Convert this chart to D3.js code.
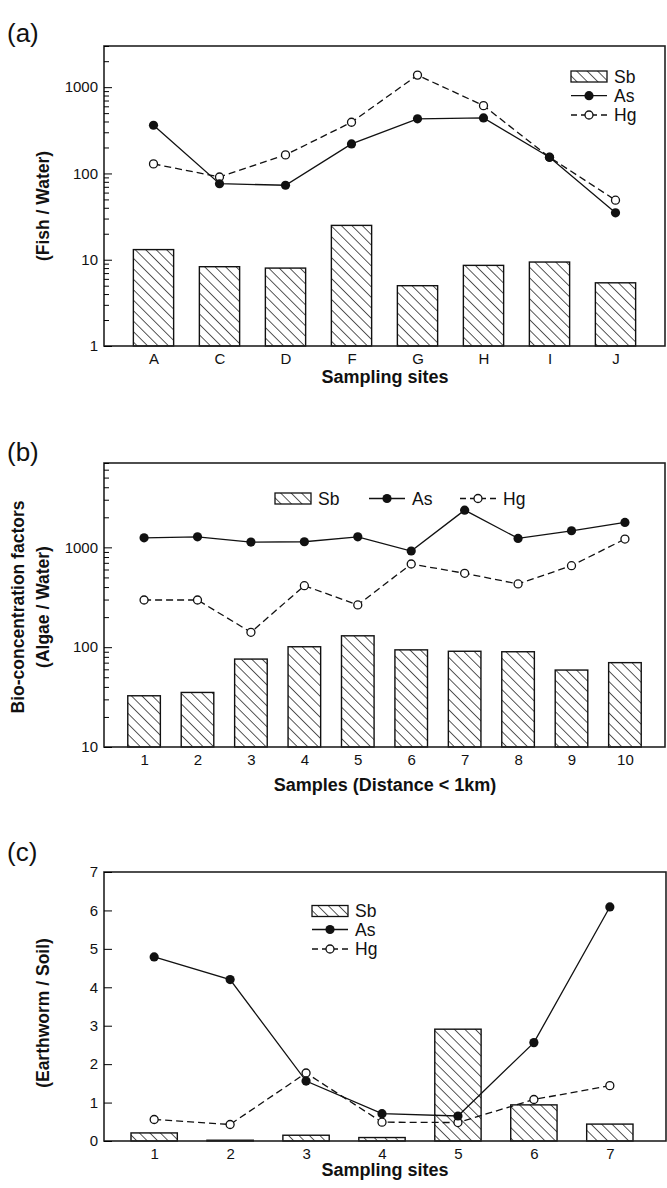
<!DOCTYPE html>
<html>
<head>
<meta charset="utf-8">
<script src="https://cdnjs.cloudflare.com/ajax/libs/d3/7.8.5/d3.min.js"></script>
<style>
  body { margin: 0; background: #fff; }
  text { font-family: "Liberation Sans", Arial, Helvetica, sans-serif; fill: #111; }
</style>
</head>
<body>
<svg id="chart" width="667" height="1188"></svg>
<script>
// data
var seriesNames = ["Sb", "As", "Hg"];

// (a) fish / water
var fishSites = ["A", "C", "D", "F", "G", "H", "I", "J"];
var fishSb = [13.1, 8.3, 8.0, 25, 5.0, 8.6, 9.4, 5.4];
var fishAs = [362, 76, 73, 220, 430, 440, 154, 35];
var fishHg = [129, 91, 164, 392, 1380, 611, 154, 49];

// (b) algae / water
var algaeSamples = ["1", "2", "3", "4", "5", "6", "7", "8", "9", "10"];
var algaeSb = [32.6, 35.2, 76, 101, 130, 94, 91, 90, 59, 70];
var algaeAs = [1247, 1276, 1130, 1138, 1276, 919, 2360, 1230, 1466, 1778];
var algaeHg = [297, 297, 141, 413, 265, 681, 550, 430, 655, 1211];

// (c) earthworm / soil
var wormSites = ["1", "2", "3", "4", "5", "6", "7"];
var wormSb = [0.21, 0.02, 0.15, 0.09, 2.91, 0.94, 0.44];
var wormAs = [4.79, 4.2, 1.56, 0.71, 0.65, 2.56, 6.09];
var wormHg = [0.56, 0.43, 1.77, 0.49, 0.48, 1.08, 1.44];

var svg = d3.select("#chart");

// hatch for the Sb bars
var defs = svg.append("defs");
defs.append("pattern")
    .attr("id", "hatch")
    .attr("patternUnits", "userSpaceOnUse")
    .attr("width", 7.4)
    .attr("height", 10)
    .attr("patternTransform", "rotate(-45)")
    .append("line")
    .attr("x1", 0).attr("y1", 0)
    .attr("x2", 0).attr("y2", 10)
    .attr("stroke", "#111")
    .attr("stroke-width", 1.4);

var HG_DASH = "7,4";

function drawPanel(p) {
    var g = svg.append("g");
    var left = p.left, right = p.right, top = p.top, bottom = p.bottom;

    var x = d3.scalePoint()
        .domain(p.cats)
        .range([left + p.xShift, right + p.xShift])
        .padding(p.pad);
    var bw = x.step() * 0.61;

    var y;
    if (p.log) {
        y = d3.scaleLog().domain(p.domain).range([bottom, top]);
    } else {
        y = d3.scaleLinear().domain(p.domain).range([bottom, top]);
    }

    // bars
    g.selectAll(".bar")
        .data(p.sb)
        .enter().append("rect")
        .attr("class", "bar")
        .attr("x", function (d, i) { return x(p.cats[i]) - bw / 2; })
        .attr("y", function (d) { return y(d); })
        .attr("width", bw)
        .attr("height", function (d) { return bottom - y(d); })
        .attr("fill", "url(#hatch)")
        .attr("stroke", "#111")
        .attr("stroke-width", 1.4);

    // lines
    var line = d3.line()
        .x(function (d, i) { return x(p.cats[i]); })
        .y(function (d) { return y(d); });

    g.append("path")
        .datum(p.hg)
        .attr("d", line)
        .attr("fill", "none")
        .attr("stroke", "#111")
        .attr("stroke-width", 1.3)
        .attr("stroke-dasharray", HG_DASH);

    g.append("path")
        .datum(p.as)
        .attr("d", line)
        .attr("fill", "none")
        .attr("stroke", "#111")
        .attr("stroke-width", 1.3);

    g.selectAll(".hg")
        .data(p.hg)
        .enter().append("circle")
        .attr("cx", function (d, i) { return x(p.cats[i]); })
        .attr("cy", function (d) { return y(d); })
        .attr("r", 4)
        .attr("fill", "#fff")
        .attr("stroke", "#111")
        .attr("stroke-width", 1.3);

    g.selectAll(".as")
        .data(p.as)
        .enter().append("circle")
        .attr("cx", function (d, i) { return x(p.cats[i]); })
        .attr("cy", function (d) { return y(d); })
        .attr("r", 4.6)
        .attr("fill", "#111");

    // frame
    g.append("rect")
        .attr("x", left).attr("y", top)
        .attr("width", right - left).attr("height", bottom - top)
        .attr("fill", "none")
        .attr("stroke", "#222")
        .attr("stroke-width", 1.6);

    // y ticks (inward) and labels
    var major = p.major;
    g.append("g")
        .attr("transform", "translate(" + left + ",0)")
        .call(d3.axisRight(y).tickValues(major).tickSize(8).tickFormat(""))
        .call(function (a) { a.select(".domain").remove(); });

    if (p.log) {
        var minor = y.ticks().filter(function (v) { return major.indexOf(v) < 0; });
        g.append("g")
            .attr("transform", "translate(" + left + ",0)")
            .call(d3.axisRight(y).tickValues(minor).tickSize(5).tickFormat(""))
            .call(function (a) { a.select(".domain").remove(); });
    }

    var yLab = g.append("g")
        .attr("transform", "translate(" + left + ",0)")
        .call(d3.axisLeft(y).tickValues(major).tickSize(0).tickPadding(6).tickFormat(d3.format("d")));
    yLab.select(".domain").remove();
    yLab.selectAll("text").style("font-size", "15px").style("font-family", null);

    var xLab = g.append("g")
        .attr("transform", "translate(0," + bottom + ")")
        .call(d3.axisBottom(x).tickSize(0).tickPadding(7));
    xLab.select(".domain").remove();
    xLab.selectAll("text").style("font-size", "15px").style("font-family", null);

    // titles
    g.append("text")
        .attr("x", 385).attr("y", p.xTitleY)
        .attr("text-anchor", "middle")
        .style("font-size", "18px").style("font-weight", "bold")
        .text(p.xTitle);

    p.yTitle.forEach(function (t, i) {
        g.append("text")
            .attr("transform", "translate(" + p.yTitleX[i] + "," + p.yTitleCy + ") rotate(-90)")
            .attr("text-anchor", "middle")
            .attr("dy", "0.35em")
            .style("font-size", "17.5px").style("font-weight", "bold")
            .text(t);
    });

    g.append("text")
        .attr("x", 7).attr("y", p.labelY)
        .style("font-size", "26px")
        .text(p.label);

    // legend
    p.legend.forEach(function (it, i) {
        var lg = g.append("g").attr("transform", "translate(" + it.x + "," + it.y + ")");
        var name = seriesNames[i];
        if (name === "Sb") {
            lg.append("rect")
                .attr("x", 0).attr("y", -5.5)
                .attr("width", 36).attr("height", 11)
                .attr("fill", "url(#hatch)")
                .attr("stroke", "#111").attr("stroke-width", 1.3);
        } else {
            lg.append("line")
                .attr("x1", 0).attr("x2", 36)
                .attr("stroke", "#111").attr("stroke-width", 1.3)
                .attr("stroke-dasharray", name === "Hg" ? "6,4" : null);
            lg.append("circle")
                .attr("cx", 18)
                .attr("r", name === "Hg" ? 4 : 4.6)
                .attr("fill", name === "Hg" ? "#fff" : "#111")
                .attr("stroke", "#111").attr("stroke-width", name === "Hg" ? 1.3 : 0);
        }
        lg.append("text")
            .attr("x", 43).attr("dy", "0.36em")
            .style("font-size", "17.5px")
            .text(name);
    });
}

drawPanel({
    label: "(a)", labelY: 42,
    left: 104, right: 665, top: 46, bottom: 346, xShift: 0, pad: 0.75,
    log: true, domain: [1, 3000], major: [1, 10, 100, 1000],
    cats: fishSites, sb: fishSb, as: fishAs, hg: fishHg,
    xTitle: "Sampling sites", xTitleY: 383,
    yTitle: ["(Fish / Water)"], yTitleX: [43], yTitleCy: 206,
    legend: [{x: 571, y: 76.5}, {x: 571, y: 95.7}, {x: 571, y: 115}]
});

drawPanel({
    label: "(b)", labelY: 461,
    left: 104, right: 665, top: 463, bottom: 747, xShift: 0, pad: 0.75,
    log: true, domain: [10, 7000], major: [10, 100, 1000],
    cats: algaeSamples, sb: algaeSb, as: algaeAs, hg: algaeHg,
    xTitle: "Samples (Distance < 1km)", xTitleY: 791,
    yTitle: ["Bio-concentration factors", "(Algae / Water)"], yTitleX: [18, 43], yTitleCy: 607,
    legend: [{x: 275, y: 498.5}, {x: 369, y: 498.5}, {x: 460, y: 498.5}]
});

drawPanel({
    label: "(c)", labelY: 861,
    left: 104, right: 666, top: 872, bottom: 1141, xShift: -3, pad: 0.7,
    log: false, domain: [0, 7], major: [0, 1, 2, 3, 4, 5, 6, 7],
    cats: wormSites, sb: wormSb, as: wormAs, hg: wormHg,
    xTitle: "Sampling sites", xTitleY: 1176,
    yTitle: ["(Earthworm / Soil)"], yTitleX: [43], yTitleCy: 1013,
    legend: [{x: 312, y: 911}, {x: 312, y: 929.5}, {x: 312, y: 949}]
});
</script>
</body>
</html>
